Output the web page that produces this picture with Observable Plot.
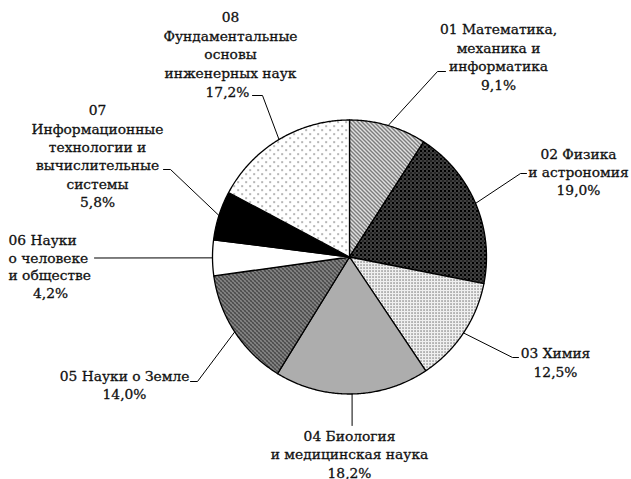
<!DOCTYPE html>
<html><head><meta charset="utf-8">
<script src="https://cdn.jsdelivr.net/npm/d3@7"></script>
<script src="https://cdn.jsdelivr.net/npm/@observablehq/plot@0.6"></script>
<style>body{margin:0;background:#fff}</style>
</head><body><div id="chart"></div>
<script>
// ---- data ----
const codes = ["01", "02", "03", "04", "05", "06", "07", "08"];
const shares = [9.1, 19.0, 12.5, 18.2, 14.0, 4.2, 5.8, 17.2];
const labelLines = [
  ["01 Математика,", "механика и", "информатика"],
  ["02 Физика", "и астрономия"],
  ["03 Химия"],
  ["04 Биология", "и медицинская наука"],
  ["05 Науки о Земле"],
  ["06 Науки", "о человеке", "и обществе"],
  ["07", "Информационные", "технологии и", "вычислительные", "системы"],
  ["08", "Фундаментальные", "основы", "инженерных наук"]
];

// ---- style / layout ----
const W = 631, H = 479, CX = 349, CY = 256.5, R = 137;
const FONT = "DejaVu Serif", FS = 13.8;
const fills = ["url(#p01)", "url(#p02)", "url(#p03)", "#adadad", "url(#p05)", "#ffffff", "#000000", "url(#p08)"];
const labelLayout = [
  {x: 498, y: 29.5, step: 18.4, anchor: "middle", elbow: [437, 71], end: [445, 71]},
  {x: 578, y: 154, step: 18.2, anchor: "middle", elbow: [520, 173], end: [526, 173]},
  {x: 555, y: 353, step: 19, anchor: "middle", elbow: [512, 357], end: [518, 357]},
  {x: 349, y: 436, step: 18.3, anchor: "middle", elbow: null, end: [351.6, 425]},
  {x: 124, y: 376, step: 18.5, anchor: "middle", elbow: [197, 381], end: [190, 381]},
  {x: 8, y: 240.5, step: 17.5, anchor: "start", pctX: 50, elbow: null, end: [94, 257.5]},
  {x: 97, y: 110.5, step: 18.3, anchor: "middle", elbow: [170, 169], end: [163, 169]},
  {x: 230, y: 17, step: 18.7, anchor: "middle", pctX: 227, elbow: [262, 95], end: [252, 95]}
];

const fmtPct = v => v.toFixed(1).replace(".", ",") + "%";

// slice polygons
const slices = [];
const leaders = [];
let cum = 0;
shares.forEach((s, i) => {
  const a0 = cum / 100 * 2 * Math.PI, a1 = (cum + s) / 100 * 2 * Math.PI;
  const am = (a0 + a1) / 2;
  cum += s;
  const pts = [{x: CX, y: CY}];
  const n = Math.max(2, Math.ceil((a1 - a0) / (Math.PI / 360)));
  for (let k = 0; k <= n; k++) {
    const a = a0 + (a1 - a0) * k / n;
    pts.push({x: CX + R * Math.sin(a), y: CY - R * Math.cos(a)});
  }
  pts.push({x: CX, y: CY});
  slices.push({code: codes[i], pts});
  const L = labelLayout[i];
  const lp = [{code: codes[i], x: CX + R * Math.sin(am), y: CY - R * Math.cos(am)}];
  if (L.elbow) lp.push({code: codes[i], x: L.elbow[0], y: L.elbow[1]});
  lp.push({code: codes[i], x: L.end[0], y: L.end[1]});
  leaders.push(...lp);
});

// text rows
const textMiddle = [], textStart = [];
labelLines.forEach((lines, i) => {
  const L = labelLayout[i];
  const all = [...lines, fmtPct(shares[i])];
  all.forEach((t, j) => {
    const isPct = j === all.length - 1;
    const row = {text: t, x: L.x, y: L.y + j * L.step};
    if (isPct && L.pctX != null) { row.x = L.pctX; textMiddle.push(row); }
    else if (L.anchor === "start") textStart.push(row);
    else textMiddle.push(row);
  });
});

const textStyle = {x: "x", y: "y", text: "text", fontSize: FS, fontFamily: FONT, fill: "#111", stroke: "#111", strokeWidth: 0.3};
const marks = [];
slices.forEach((s, i) => {
  marks.push(Plot.line(s.pts, {x: "x", y: "y", fill: fills[i], stroke: "#000", strokeWidth: 1.3, strokeLinejoin: "round", curve: "linear"}));
});
marks.push(Plot.line(leaders, {x: "x", y: "y", z: "code", stroke: "#000", strokeWidth: 1}));
marks.push(Plot.text(textMiddle, {...textStyle, textAnchor: "middle"}));
marks.push(Plot.text(textStart, {...textStyle, textAnchor: "start"}));

const svg = Plot.plot({
  width: W, height: H,
  margin: 0,
  x: {domain: [0, W], range: [0, W], axis: null},
  y: {domain: [0, H], range: [0, H], axis: null},
  style: {background: "#fff"},
  marks
});

// patterns
const defs = d3.select(svg).insert("defs", ":first-child");
function pat(id, w, h, build) {
  const p = defs.append("pattern").attr("id", id).attr("patternUnits", "userSpaceOnUse").attr("width", w).attr("height", h);
  build(p);
}
function px(p, x, y, c, s = 1) { p.append("rect").attr("x", x).attr("y", y).attr("width", s).attr("height", s).attr("fill", c); }
pat("p01", 4, 4, p => {
  p.append("rect").attr("width", 4).attr("height", 4).attr("fill", "#fff");
  p.append("path").attr("d", "M0,0L4,4M-1,3L1,5M3,-1L5,1").attr("stroke", "#333").attr("stroke-width", 1.2);
});
pat("p02", 4, 4, p => {
  p.append("rect").attr("width", 4).attr("height", 4).attr("fill", "#000");
  px(p, 0, 0, "#fff"); px(p, 2, 2, "#fff"); px(p, 2, 0, "#999");
});
pat("p03", 3, 3, p => {
  p.append("rect").attr("width", 3).attr("height", 3).attr("fill", "#fff");
  px(p, 0, 0, "#111", 1.1);
  px(p, 1.5, 1.5, "#bbb");
});
pat("p05", 4, 4, p => {
  p.append("rect").attr("width", 4).attr("height", 4).attr("fill", "#5e5e5e");
  px(p, 0, 0, "#fff"); px(p, 2, 2, "#fff");
  px(p, 1, 3, "#111"); px(p, 3, 1, "#111");
});
pat("p08", 8, 8, p => {
  p.append("rect").attr("width", 8).attr("height", 8).attr("fill", "#fff");
  px(p, 1, 1, "#333", 1.2); px(p, 5, 5, "#333", 1.2);
});

document.getElementById("chart").appendChild(svg);
</script>
</body></html>
